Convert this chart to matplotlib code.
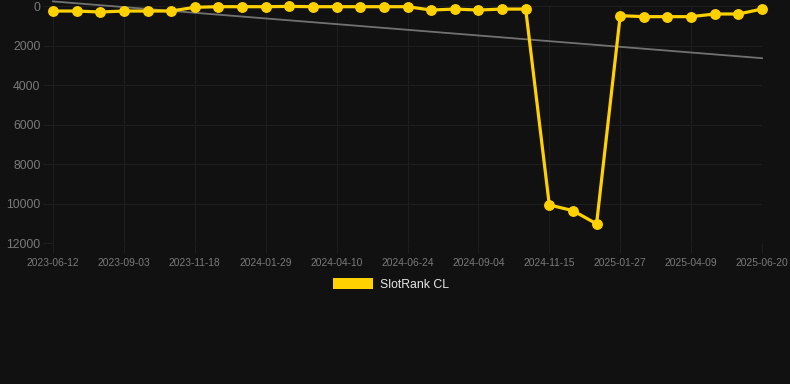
import numpy as np
import matplotlib
matplotlib.use("Agg")
import matplotlib.pyplot as plt
from matplotlib.patches import Rectangle

plt.rcParams['font.family'] = ['Liberation Sans', 'DejaVu Sans']

# one point per sample, every third date gets a label
dates = ["2023-06-12", "2023-07-10", "2023-08-07", "2023-09-03", "2023-09-28",
         "2023-10-23", "2023-11-18", "2023-12-12", "2024-01-05", "2024-01-29",
         "2024-02-22", "2024-03-17", "2024-04-10", "2024-05-05", "2024-05-30",
         "2024-06-24", "2024-07-18", "2024-08-11", "2024-09-04", "2024-09-28",
         "2024-10-22", "2024-11-15", "2024-12-09", "2025-01-03", "2025-01-27",
         "2025-02-20", "2025-03-16", "2025-04-09", "2025-05-03", "2025-05-27",
         "2025-06-20"]
rank = [240, 240, 290, 240, 240, 240, 50, 20, 20, 20,
        5, 20, 20, 20, 20, 20, 190, 140, 190, 140,
        140, 10070, 10360, 11030, 475, 525, 525, 525, 390, 390,
        140]
series_name = "SlotRank CL"
y_ticks = [0, 2000, 4000, 6000, 8000, 10000, 12000]

bg = "#111111"
grid_col = "#1e1e1e"
label_col = "#7a7a7a"
yellow = "#FFD100"

W, H = 790, 384
fig = plt.figure(figsize=(W / 100, H / 100), dpi=100, facecolor=bg)
ax = fig.add_axes([53 / W, 1 - 243 / H, (762 - 53) / W, (243 - 6.3) / H])
ax.set_facecolor(bg)

x = np.arange(len(dates))

# linear trend of the rank series
coef = np.polyfit(x, rank, 1)
trend = np.polyval(coef, x)
ax.plot(x, trend, color="#7c7c7c", lw=1.3, alpha=0.9, clip_on=False, zorder=2)

ax.plot(x, rank, color=yellow, lw=2.3, marker="o", ms=6.8,
        markerfacecolor=yellow, markeredgecolor=yellow, clip_on=False, zorder=3)

ax.set_xlim(0, len(dates) - 1)
ax.set_ylim(12000, 0)

ax.set_xticks(x[::3])
ax.set_xticklabels(dates[::3])
ax.set_yticks(y_ticks)
ax.set_yticklabels([str(v) for v in y_ticks])

ax.grid(True, color=grid_col, lw=0.8)
ax.set_axisbelow(True)
for s in ax.spines.values():
    s.set_visible(False)
ax.tick_params(axis="x", colors=grid_col, length=7, width=0.8, labelcolor=label_col,
               labelsize=7.4, pad=4)
ax.tick_params(axis="y", colors=grid_col, length=7, width=0.8, labelcolor=label_col,
               labelsize=8.8, pad=2)

# legend drawn by hand like the reference
fig.patches.append(Rectangle((333 / W, 1 - 289 / H), 40 / W, 11 / H,
                             transform=fig.transFigure, facecolor=yellow,
                             edgecolor="none"))
fig.text(380 / W, 1 - 284.5 / H, series_name, color="#e6e6e6", fontsize=8.8,
         va="center", ha="left")

fig.savefig("out.png", dpi=100, facecolor=bg)
